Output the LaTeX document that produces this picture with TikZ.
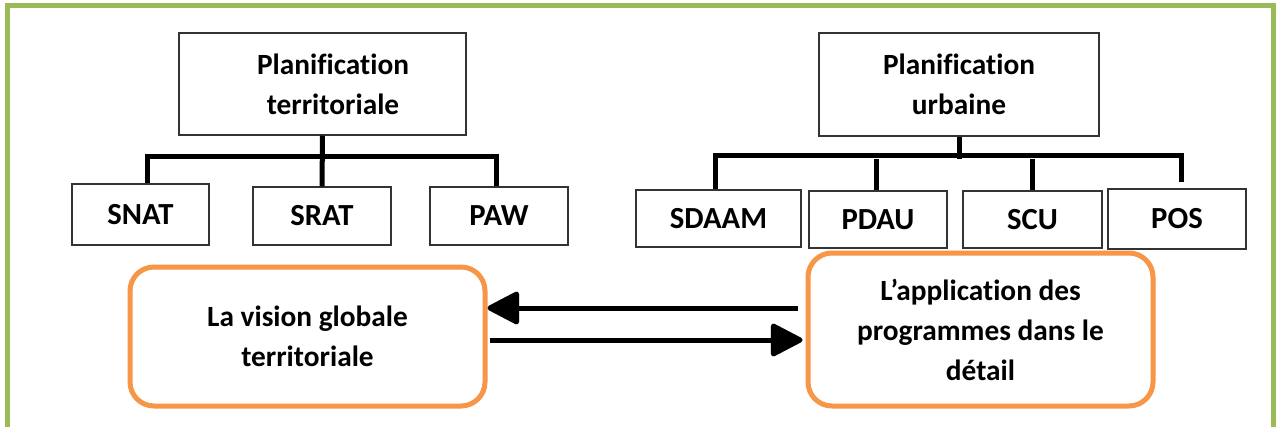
\documentclass[tikz,border=0pt]{standalone}
\usepackage{fontspec}
\setmainfont{Carlito}[Ligatures={NoCommon}]
\usetikzlibrary{arrows.meta,calc}
\definecolor{frameGreen}{RGB}{155,187,89}
\definecolor{boxOrange}{RGB}{247,150,70}
\begin{document}
\begin{tikzpicture}[x=0.75pt,y=-0.75pt,
  lbl/.style={font=\fontsize{22}{30}\selectfont\bfseries, align=center, inner sep=0pt},
  plainbox/.style={draw=black!80, line width=1.1pt, inner sep=0pt,
    font=\fontsize{22}{30}\selectfont\bfseries, align=center},
  smallbox/.style={plainbox, font=\fontsize{23}{30}\selectfont\bfseries},
  roundbox/.style={draw=boxOrange, line width=3.75pt, rounded corners=18pt, inner sep=0pt,
    font=\fontsize{22}{30}\selectfont\bfseries, align=center},
  bar/.style={line width=3.75pt, black},
  barshadow/.style={line width=3.75pt, black!25, shift={(1.5,2.5)}},
  arr/.style={line width=3.75pt, black, -{Triangle[length=26pt,width=26pt,round]}},
  arrshadow/.style={line width=3.75pt, black!25, shift={(1.5,2.5)}, -{Triangle[length=26pt,width=26pt,round]}}]
\useasboundingbox (0,0) rectangle (1278,426);
\clip (0,0) rectangle (1278,426);
\fill[white] (0,0) rectangle (1278,426);
% frame
\draw[frameGreen, line width=3.75pt] (7.5,5.5) rectangle (1273.5,445);

% top boxes
\node[plainbox, minimum width=215.25pt, minimum height=76.5pt] (T) at (322.5,84) {};
\node[lbl] (Ttxt) at (333,84) {Planification\\territoriale};
\node[plainbox, minimum width=210pt, minimum height=77.25pt] (U) at (959,84.5) {Planification\\urbaine};

% left children
\node[smallbox, minimum width=102.75pt, minimum height=45.75pt] (SNAT) at (140.5,214.5) {SNAT};
\node[smallbox, minimum width=103.5pt, minimum height=43.5pt] (SRAT) at (322,216) {SRAT};
\node[smallbox, minimum width=103.5pt, minimum height=43.5pt] (PAW) at (499,216) {PAW};

% right children
\node[smallbox, minimum width=123.75pt, minimum height=42.75pt] (SDAAM) at (718.5,218.5) {SDAAM};
\node[smallbox, minimum width=103.5pt, minimum height=42.75pt] (PDAU) at (878,219.5) {PDAU};
\node[smallbox, minimum width=104.25pt, minimum height=42.75pt] (SCU) at (1032.5,219.5) {SCU};
\node[smallbox, minimum width=103.5pt, minimum height=45pt] (POS) at (1177,219) {POS};

% orange boxes
\node[roundbox, minimum width=266.25pt, minimum height=104.25pt] (L) at (307.5,336.5) {La vision globale\\territoriale};
\node[roundbox, minimum width=258.75pt, minimum height=114.75pt] (R) at (980.5,329.5) {L’application des\\programmes dans le\\détail};

% left bracket
\coordinate (tj) at (322,156);
\draw[barshadow] ($(SNAT.north)+(7,0)$) |- (tj) -| ($(PAW.north)+(-3,0)$);
\draw[bar] ($(SNAT.north)+(7,0)$) |- (tj) -| ($(PAW.north)+(-3,0)$);
\draw[bar] (T.south) -- (SRAT.north);

% right bracket
\coordinate (uj) at (958,155);
\coordinate (posend) at ($(POS.north)+(4,-6)$);
\draw[barshadow] ($(SDAAM.north)+(-3,0)$) |- (uj) -| (posend);
\draw[bar] ($(SDAAM.north)+(-3,0)$) |- (uj) -| (posend);
\draw[bar] (U.south) -- ($(U.south)+(0,22)$);
\draw[bar] ($(PDAU.north)+(-2,0)$) -- ++(0,-31);
\draw[bar] ($(SCU.north)+(0,0)$) -- ++(0,-31);

% arrows
\draw[arrshadow] ($(R.west)+(-8,-21.5)$) -- ($(L.east)+(0,-28.5)$);
\draw[arr] ($(R.west)+(-8,-21.5)$) -- ($(L.east)+(0,-28.5)$);
\draw[arrshadow] ($(L.east)+(2,3.5)$) -- ($(R.west)+(-3,10.5)$);
\draw[arr] ($(L.east)+(2,3.5)$) -- ($(R.west)+(-3,10.5)$);
\end{tikzpicture}
\end{document}
